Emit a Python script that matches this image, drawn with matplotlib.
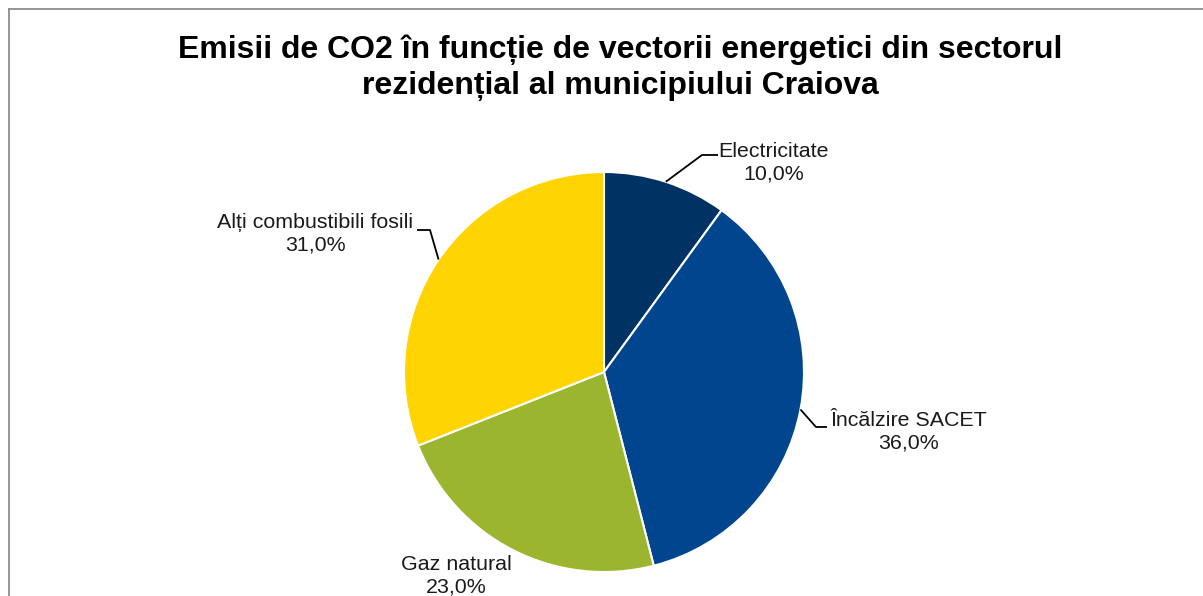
import numpy as np
import matplotlib.pyplot as plt
from matplotlib.lines import Line2D

plt.rcParams['font.family'] = ['Liberation Sans', 'DejaVu Sans']

# share of CO2 emissions by energy carrier
labels = ['Electricitate', 'Încălzire SACET', 'Gaz natural', 'Alți combustibili fosili']
shares = [10.0, 36.0, 23.0, 31.0]
colors = ['#003264', '#00458E', '#9BB52E', '#FFD400']

fig = plt.figure(figsize=(12.03, 5.96), dpi=100)
ax = fig.add_axes([0, 0, 1, 1])

wedges, _ = ax.pie(shares, colors=colors, startangle=90, counterclock=False,
                   radius=1.0, center=(0, 0),
                   wedgeprops=dict(edgecolor='white', linewidth=1.5))

# axis limits chosen so one data unit = 200 px
ax.set_xlim(-604 / 200, (1203 - 604) / 200)
ax.set_ylim((372 - 596) / 200, 372 / 200)
ax.set_aspect('auto')
ax.axis('off')

# label text position and leader elbow offsets (data units)
text_pos = [(0.85, 1.045), (1.525, -0.30), (-0.74, -1.02), (-1.445, 0.69)]
elbows = [[(0.49, 1.085), (0.57, 1.085)],
          [(1.06, -0.275), (1.115, -0.275)],
          None,
          [(-0.87, 0.71), (-0.935, 0.71)]]

for w, lab, val, tp, elb in zip(wedges, labels, shares, text_pos, elbows):
    mid = np.deg2rad((w.theta1 + w.theta2) / 2)
    edge = (np.cos(mid), np.sin(mid))
    if elb is not None:
        xs = [edge[0]] + [p[0] for p in elb]
        ys = [edge[1]] + [p[1] for p in elb]
        ax.plot(xs, ys, color='black', lw=1.3, solid_capstyle='butt')
    ax.text(tp[0], tp[1], f'{lab}\n{val:.1f}%'.replace('.', ','),
            ha='center', va='center', fontsize=15.4, linespacing=1.22,
            color='#1a1a1a')

fig.text(620 / 1203, 1 - 68 / 596,
         'Emisii de CO2 în funcție de vectorii energetici din sectorul\n'
         'rezidențial al municipiului Craiova',
         ha='center', va='center', fontsize=23, fontweight='bold',
         linespacing=1.27)

# chart area border (extends past the right and bottom edges)
fx, fy = 8.5 / 1203, 1 - 8.5 / 596
fig.add_artist(Line2D([fx, fx], [0, fy], transform=fig.transFigure,
                      color='#8c8c8c', lw=1.3))
fig.add_artist(Line2D([fx, 1], [fy, fy], transform=fig.transFigure,
                      color='#8c8c8c', lw=1.3))

fig.savefig('out.png', dpi=100)
